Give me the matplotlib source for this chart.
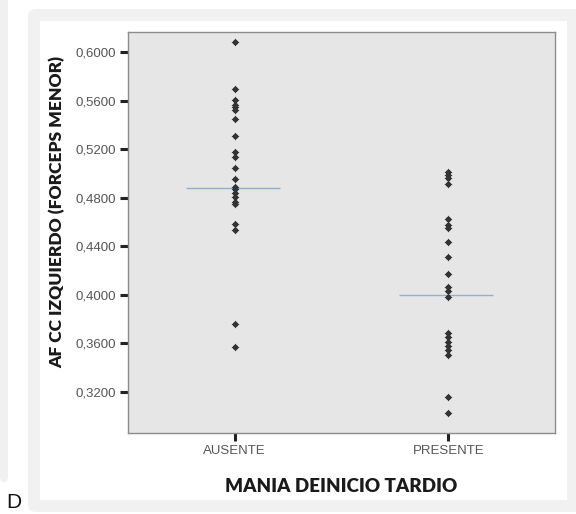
import matplotlib
matplotlib.use("Agg")
import matplotlib.pyplot as plt
from matplotlib.patches import FancyBboxPatch, Rectangle


CATEGORIES = ["AUSENTE", "PRESENTE"]
AUSENTE = [
    0.6085, 0.5693, 0.5601, 0.5568, 0.5547, 0.5523, 0.5448, 0.5311, 0.5179,
    0.5138, 0.5042, 0.4952, 0.4891, 0.4869, 0.4841, 0.4808, 0.4767, 0.4748,
    0.4584, 0.4534, 0.3758, 0.3568,
]
PRESENTE = [
    0.5014, 0.4987, 0.4960, 0.4913, 0.4622, 0.4575, 0.4548, 0.4438, 0.4314,
    0.4169, 0.4067, 0.4034, 0.3985, 0.3683, 0.3651, 0.3614, 0.3579, 0.3546,
    0.3505, 0.3161, 0.3030,
]
GROUP_LINES = [0.4878, 0.4000]
Y_TICKS = [0.32, 0.36, 0.40, 0.44, 0.48, 0.52, 0.56, 0.60]

W, H = 576, 514
fig = plt.figure(figsize=(W / 100, H / 100), dpi=100)
fig.patch.set_facecolor("white")


def px(x0, y0, x1, y1):
    # pixel box (top-left origin) -> figure fraction rect
    return x0 / W, 1 - y1 / H, (x1 - x0) / W, (y1 - y0) / H


# background panels, kept behind the axes
l, b, w, h = px(0, -10, 8, 483)
fig.patches.append(FancyBboxPatch((l, b), w, h, boxstyle="round,pad=0,rounding_size=0.012",
                                  transform=fig.transFigure, facecolor="#f0f0f0", edgecolor="none", zorder=-3))
l, b, w, h = px(28, 9, 586, 512)
fig.patches.append(FancyBboxPatch((l, b), w, h, boxstyle="round,pad=0,rounding_size=0.015",
                                  transform=fig.transFigure, facecolor="#f1f1f1", edgecolor="none", zorder=-2))
l, b, w, h = px(40, 21, 567, 500)
fig.patches.append(Rectangle((l, b), w, h, transform=fig.transFigure,
                             facecolor="white", edgecolor="none", zorder=-1))

ax = fig.add_axes(px(128, 32, 555, 433))
ax.set_zorder(1)
ax.set_facecolor("#e6e6e6")
for spine in ax.spines.values():
    spine.set_color("#8c8c8c")
    spine.set_linewidth(1.0)

series = [AUSENTE, PRESENTE]
for i, values in enumerate(series, start=1):
    ax.scatter([i] * len(values), values, marker=(4, 1, 0), s=26, color="#333333",
               linewidths=0.4, zorder=3)
    ax.scatter([i] * len(values), values, marker="o", s=8, color="#333333", zorder=3)
    ax.hlines(GROUP_LINES[i - 1], i - 0.23, i + 0.21, color="#8fb1d0", linewidth=1.0, zorder=2)

ax.set_xlim(0.5, 2.5)
ax.set_ylim(0.2863, 0.6165)
ax.set_xticks([1, 2])
ax.set_xticklabels(CATEGORIES, fontsize=9.5, color="#555555", family="Liberation Sans")
ax.set_yticks(Y_TICKS)
ax.set_yticklabels([f"{v:.4f}".replace(".", ",") for v in Y_TICKS],
                   fontsize=9.5, color="#555555", family="Liberation Sans")
ax.tick_params(axis="both", direction="out", length=6, width=2.2, color="#222222")
ax.tick_params(axis="y", pad=3)
ax.tick_params(axis="x", pad=3)

ax.set_ylabel("AF CC IZQUIERDO (FORCEPS MENOR)", fontsize=12.5, fontweight="heavy",
              family="Lato", color="#1a1a1a", va="center")
ax.yaxis.set_label_coords(-0.166, 0.551)
ax.set_xlabel("MANIA DEINICIO TARDIO", fontsize=13.5, fontweight="heavy",
              family="Lato", color="#1a1a1a", va="center")
ax.xaxis.set_label_coords(0.5, (433 - 486) / 401)

fig.text(6 / W, 1 - 502 / H, "D", fontsize=15, family="Liberation Sans",
         color="#111111", va="center", ha="left")

fig.savefig("out.png", dpi=100, facecolor=fig.get_facecolor())
